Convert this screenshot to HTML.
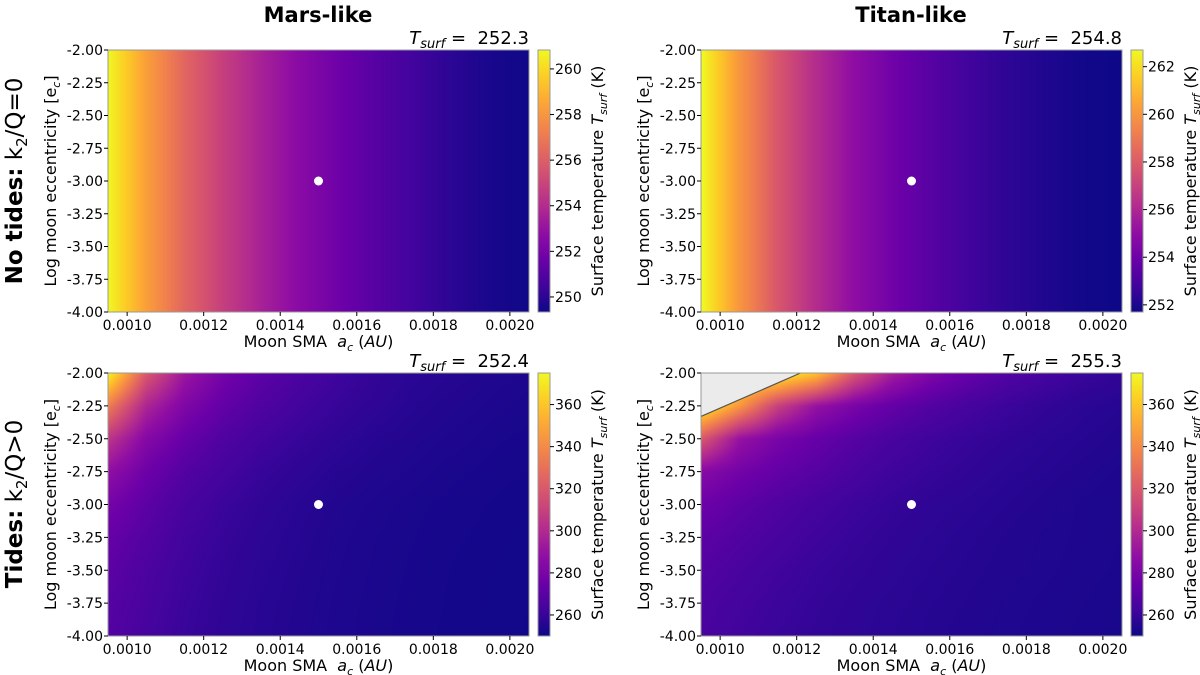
<!DOCTYPE html>
<html><head><meta charset="utf-8"><style>
body{margin:0;background:#fff;width:1200px;height:675px;overflow:hidden;position:relative;font-family:"DejaVu Sans","Liberation Sans",sans-serif}
canvas{position:absolute}
svg{position:absolute;left:0;top:0;font-family:"DejaVu Sans","Liberation Sans",sans-serif}
</style></head><body>
<canvas id="c0" width="421" height="262" style="left:108px;top:50px"></canvas>
<canvas id="c1" width="421" height="262" style="left:701px;top:50px"></canvas>
<canvas id="c2" width="421" height="263" style="left:108px;top:373px"></canvas>
<canvas id="c3" width="421" height="263" style="left:701px;top:373px"></canvas>
<svg id="s" width="1200" height="675" xmlns="http://www.w3.org/2000/svg"></svg>
<script>
const xCats=[0.00095,0.00105,0.00115,0.00125,0.00135,0.00145,0.00155,0.00165,0.00175,0.00185,0.00195,0.00205];
const yCats=[-2,-2.25,-2.5,-2.75,-3,-3.25,-3.5,-3.75,-4];
const marsNoTides=[260.8,258.3,256.3,254.8,253.6,252.6,251.8,251.1,250.5,250.0,249.6,249.4];
const titanNoTides=[262.8,260.0,257.8,256.2,255.0,254.1,253.4,252.8,252.4,252.1,251.8,251.7];
const marsTides=[
[375,320,292,279,271,266,262,259,257,256,255,254],
[335,298,282,273,267,263,260,258,256,255,254,253],
[305,284,274,267,263,260,258,256,255,254,253,252.5],
[288,276,268,264,260,258,256,255,254,253,252.5,252],
[279,271,265,261,258.5,256.5,255,254,253,252.5,252,251.5],
[274,268,263,260,257.5,256,254.5,253.5,252.8,252.2,251.8,251.4],
[271,266,262,259,257,255.5,254.3,253.3,252.6,252,251.6,251.2],
[269,265,261,258.5,256.5,255.2,254,253.1,252.5,251.9,251.5,251.1],
[268,264,260.5,258,256.3,255,253.9,253,252.4,251.8,251.4,251]];
const titanTides=[
[375,375,375,360,320,295,282,274,268,264,261,259],
[375,345,310,290,280,273,268,264,261,259,257,256],
[320,290,280,274,269,265,262,260,258.5,257,256,255],
[285,278,273,269,265,262,260,258.5,257,256,255,254],
[276,271,267,264,261.5,259.5,258,257,256,255,254,253.5],
[271,267.5,264.5,262,260,258.5,257.2,256.2,255.3,254.6,254,253.5],
[268,265,262.5,260.5,259,257.7,256.6,255.7,255,254.4,253.8,253.3],
[266,263.5,261.3,259.6,258.2,257,256,255.3,254.6,254,253.5,253],
[265,262.5,260.5,259,257.7,256.6,255.7,255,254.4,253.8,253.3,252.8]];
const nanBoundary=[[0.00095,-2.33],[0.00121,-2.0]];
const starPoint=[0.0015,-3.0];
const tsurfVals=["252.3","254.8","252.4","255.3"];
const cbRanges=[[249.34,260.83],[251.7,262.7],[250,375],[250,375]];
const cbTicks=[[250,252,254,256,258,260],[252,254,256,258,260,262],[260,280,300,320,340,360],[260,280,300,320,340,360]];
const xTicks=[0.0010,0.0012,0.0014,0.0016,0.0018,0.0020];
const yTicks=[-2.00,-2.25,-2.50,-2.75,-3.00,-3.25,-3.50,-3.75,-4.00];

const P=[[0.0,[13,8,135]],[0.1,[65,4,157]],[0.2,[106,0,168]],[0.3,[143,13,164]],[0.4,[177,42,144]],[0.5,[204,71,120]],[0.6,[225,100,98]],[0.7,[242,132,75]],[0.8,[252,166,54]],[0.9,[252,206,37]],[1.0,[240,249,33]]];
function plasma(t){t=Math.max(0,Math.min(1,t));for(let i=1;i<P.length;i++){if(t<=P[i][0]){const a=P[i-1],b=P[i],f=(t-a[0])/(b[0]-a[0]);return a[1].map((v,k)=>Math.round(v+(b[1][k]-v)*f));}}return P[P.length-1][1];}
const X0=0.00095,X1=0.00205,Y0=-2,Y1=-4;
function sample(g,fx,fy){
  const nx=g[0].length-1,ny=g.length-1;
  fx=Math.max(0,Math.min(nx,fx));fy=Math.max(0,Math.min(ny,fy));
  const i=Math.min(nx-1,Math.floor(fx)),j=Math.min(ny-1,Math.floor(fy));const u=fx-i,v=fy-j;
  return g[j][i]*(1-u)*(1-v)+g[j][i+1]*u*(1-v)+g[j+1][i]*(1-u)*v+g[j+1][i+1]*u*v;}
function paint(id,g,rng){
  const c=document.getElementById(id),ctx=c.getContext('2d'),W=c.width,H=c.height,img=ctx.createImageData(W,H);
  for(let y=0;y<H;y++)for(let x=0;x<W;x++){
    const xv=X0+(X1-X0)*(x+0.5)/W,yv=Y0+(Y1-Y0)*(y+0.5)/H;
    const fx=(xv-xCats[0])/(xCats[1]-xCats[0]),fy=(yv-yCats[0])/(yCats[1]-yCats[0]);
    const val=sample(g,fx,fy*(g.length>2?1:0));
    const col=plasma((val-rng[0])/(rng[1]-rng[0]));const k=(y*W+x)*4;
    img.data[k]=col[0];img.data[k+1]=col[1];img.data[k+2]=col[2];img.data[k+3]=255;}
  ctx.putImageData(img,0,0);}
paint('c0',[marsNoTides,marsNoTides],cbRanges[0]);
paint('c1',[titanNoTides,titanNoTides],cbRanges[1]);
paint('c2',marsTides,cbRanges[2]);
paint('c3',titanTides,cbRanges[3]);

const s=document.getElementById('s'),NS='http://www.w3.org/2000/svg';
function el(t,a,txt){const e=document.createElementNS(NS,t);for(const k in a)e.setAttribute(k,a[k]);if(txt!==undefined)e.innerHTML=txt;s.appendChild(e);return e;}
const panels=[{l:108,t:50,b:312},{l:701,t:50,b:312},{l:108,t:373,b:636},{l:701,t:373,b:636}];
const W=421;
const defs=el('defs',{});
let gs='';for(let i=0;i<=20;i++){const c=plasma(1-i/20);gs+=`<stop offset="${i/20}" stop-color="rgb(${c})"/>`;}
defs.innerHTML=`<linearGradient id="cbg" x1="0" y1="0" x2="0" y2="1">${gs}</linearGradient>`;
panels.forEach((p,pi)=>{
  const sx=v=>p.l+(v-X0)/(X1-X0)*W, sy=v=>p.t+(v-Y0)/(Y1-Y0)*(p.b-p.t);
  if(pi===3){
    const pts=nanBoundary.map(q=>[sx(q[0]),sy(q[1])]);
    const poly=el('polygon',{points:`${p.l},${p.t} ${pts[1][0]},${p.t} ${pts[0][0]},${pts[0][1]}`,fill:'#ebebeb'});
    
    el('line',{x1:pts[0][0],y1:pts[0][1],x2:pts[1][0],y2:pts[1][1],stroke:'#555',"stroke-width":1.2});
  }
  el('rect',{x:p.l,y:p.t,width:W,height:p.b-p.t,fill:'none',stroke:'#999',"stroke-width":1,});
  const dot=el('circle',{cx:sx(starPoint[0]),cy:sy(starPoint[1]),r:4.5,fill:'#fff'});
  
  xTicks.forEach(v=>{el('line',{x1:sx(v),x2:sx(v),y1:p.b,y2:p.b+4,stroke:'#000'});
    const t=el('text',{x:sx(v),y:p.b+18,"font-size":14,"text-anchor":"middle"},v.toFixed(4));});
  yTicks.forEach(v=>{el('line',{x1:p.l-4,x2:p.l,y1:sy(v),y2:sy(v),stroke:'#000'});
    const t=el('text',{x:p.l-5,y:sy(v)+5,"font-size":14,"text-anchor":"end"},v.toFixed(2));});
  const xl=el('text',{x:p.l+W/2,y:p.b+35,"font-size":16,"text-anchor":"middle"},'Moon SMA&#160; <tspan font-style="italic">a</tspan><tspan font-style="italic" font-size="11" dy="4">c</tspan><tspan dy="-4"> (</tspan><tspan font-style="italic">AU</tspan>)');
  
  const yc=(p.t+p.b)/2,yx=p.l-52;
  const yl=el('text',{x:yx,y:yc,"font-size":16,"text-anchor":"middle",transform:`rotate(-90 ${yx} ${yc})`},'Log moon eccentricity [e<tspan font-style="italic" font-size="11" dy="4">c</tspan><tspan dy="-4">]</tspan>');
  
  const tl=el('text',{x:p.l+W,y:p.t-6,"font-size":18,"text-anchor":"end"},'<tspan font-style="italic">T</tspan><tspan font-style="italic" font-size="13" dy="4">surf</tspan><tspan dy="-4">&#160;=&#160; '+tsurfVals[pi]+'</tspan>');
  
  const cx=p.l+W+9,cw=12,rng=cbRanges[pi];
  const cb=el('rect',{x:cx,y:p.t,width:cw,height:p.b-p.t,fill:'url(#cbg)',stroke:'#999'});
  
  const cy=v=>p.b-(v-rng[0])/(rng[1]-rng[0])*(p.b-p.t);
  cbTicks[pi].forEach(v=>{el('line',{x1:cx+cw,x2:cx+cw+4,y1:cy(v),y2:cy(v),stroke:'#000'});
    const t=el('text',{x:cx+cw+5,y:cy(v)+5,"font-size":14},String(v));});
  const lx=cx+cw+53;
  const cl=el('text',{x:lx,y:yc,"font-size":16,"text-anchor":"middle",transform:`rotate(-90 ${lx} ${yc})`},'Surface temperature <tspan font-style="italic">T</tspan><tspan font-style="italic" font-size="11" dy="4">surf</tspan><tspan dy="-4"> (K)</tspan>');
  
});
const t1=el('text',{x:318,y:22,"font-size":21,"font-weight":"bold","text-anchor":"middle"},'Mars-like');

const t2=el('text',{x:911,y:22,"font-size":21,"font-weight":"bold","text-anchor":"middle"},'Titan-like');

const r1=el('text',{x:22,y:181,"font-size":23,"text-anchor":"middle",transform:'rotate(-90 22 181)'},'<tspan font-weight="bold">No tides:</tspan> k<tspan font-size="15" dy="5">2</tspan><tspan dy="-5">/Q=0</tspan>');

const r2=el('text',{x:22,y:504,"font-size":23,"text-anchor":"middle",transform:'rotate(-90 22 504)'},'<tspan font-weight="bold">Tides:</tspan> k<tspan font-size="15" dy="5">2</tspan><tspan dy="-5">/Q&gt;0</tspan>');

</script>
</body></html>
